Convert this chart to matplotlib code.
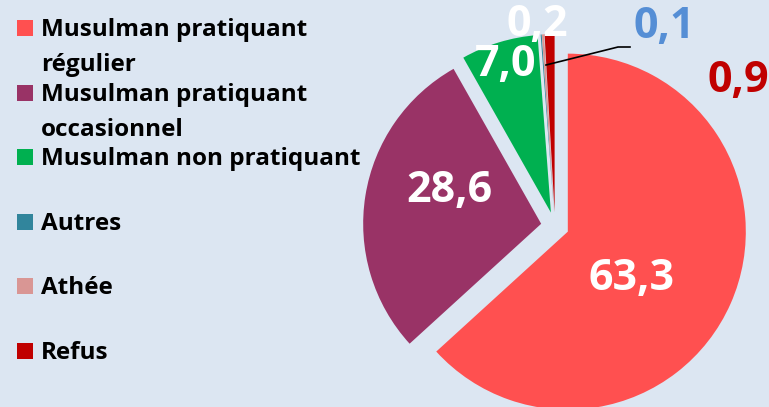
import matplotlib
matplotlib.use('Agg')
from matplotlib import pyplot as plt
from matplotlib.patches import Rectangle

categories = ["Musulman pratiquant\nrégulier", "Musulman pratiquant\noccasionnel",
              "Musulman non pratiquant", "Autres", "Athée", "Refus"]
values = [63.3, 28.6, 7.0, 0.1, 0.2, 0.9]
value_labels = ["63,3", "28,6", "7,0", "0,1", "0,2", "0,9"]
colors = ["#FF5050", "#993366", "#00B050", "#31859C", "#D99694", "#C00000"]
label_colors = ["white", "white", "white", "#558ED5", "white", "#C00000"]

W, H = 769, 407
BG = "#DCE6F2"
FONT = "Open Sans"

# label centres in pixels (x, y from top)
label_xy = [(632, 279), (449, 191), (506, 65), (664, 26), (537, 24), (738, 80)]

fig = plt.figure(figsize=(W / 100, H / 100), dpi=100, facecolor=BG)
ax = fig.add_axes([0, 0, 1, 1])
ax.set_facecolor(BG)


def Y(y):
    # pixel row -> data y
    return H - y


# explode is in data units (pixels here)
ax.pie(values, colors=colors, startangle=90, counterclock=False,
       center=(555, Y(226)), radius=178, explode=[14] * len(values),
       wedgeprops=dict(linewidth=0))

for txt, (x, y), c in zip(value_labels, label_xy, label_colors):
    ax.text(x, Y(y), txt, color=c, fontsize=31, fontweight='bold',
            family=FONT, ha='center', va='center')

# leader line for the tiny "Autres" slice
ax.plot([546, 618, 630], [Y(65), Y(47), Y(47)], color='black', lw=1.2)

# legend on the left
for i, (lab, c) in enumerate(zip(categories, colors)):
    base = 36 + i * 64.6
    ax.add_patch(Rectangle((17, Y(base)), 16, 16, facecolor=c, edgecolor='none'))
    for j, line in enumerate(lab.split("\n")):
        ax.text(41, Y(base + j * 35), line, fontsize=17.5, fontweight='bold',
                family=FONT, ha='left', va='baseline', color='black')

ax.set_xlim(0, W)
ax.set_ylim(0, H)
ax.set_aspect('equal')
ax.axis('off')

fig.savefig("out.png", dpi=100, facecolor=BG)
